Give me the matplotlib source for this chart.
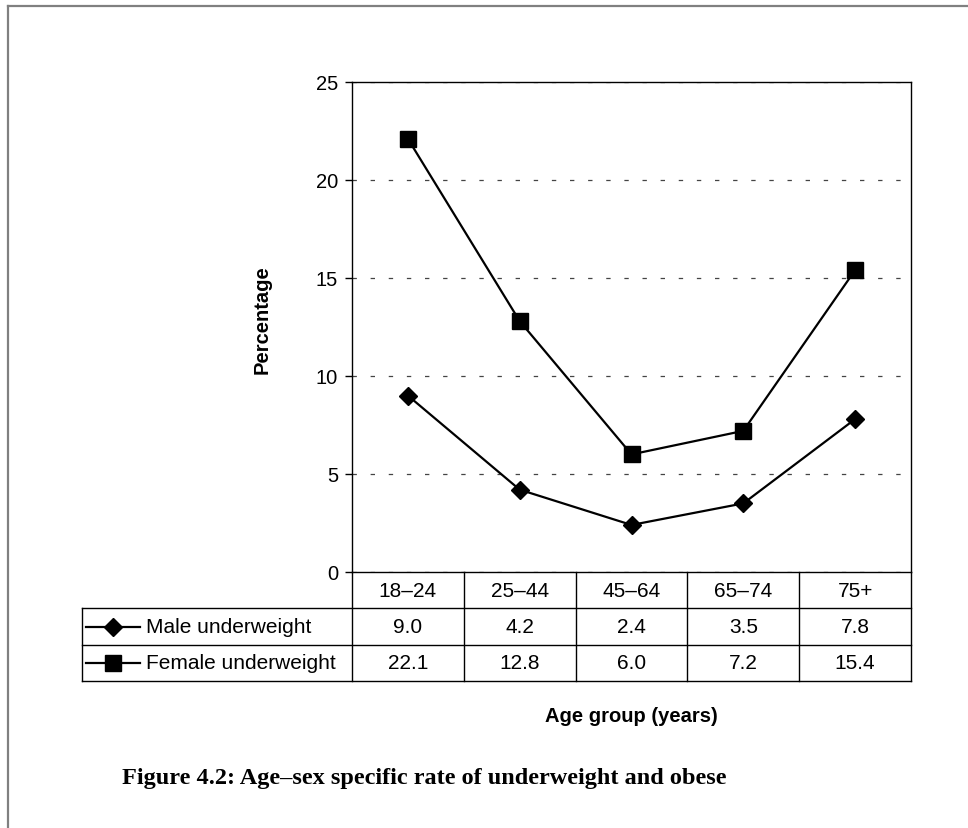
import numpy as np
import matplotlib
matplotlib.use("Agg")
import matplotlib.pyplot as plt
from matplotlib.lines import Line2D

plt.rcParams['font.family'] = ['Liberation Sans', 'DejaVu Sans']

age_groups = ['18\u201324', '25\u201344', '45\u201364', '65\u201374', '75+']
male = [9.0, 4.2, 2.4, 3.5, 7.8]
female = [22.1, 12.8, 6.0, 7.2, 15.4]
series_names = ['Male underweight', 'Female underweight']
y_ticks = [0, 5, 10, 15, 20, 25]

W, H = 968, 829
fig = plt.figure(figsize=(W / 100, H / 100), dpi=100)

# axes in pixel terms
ax_l, ax_r, ax_t, ax_b = 352, 911, 83, 573
ax = fig.add_axes([ax_l / W, 1 - ax_b / H, (ax_r - ax_l) / W, (ax_b - ax_t) / H])

x = np.arange(len(age_groups))
styles = [('D', 9.5), ('s', 11.5)]
for vals, name, (mk, ms) in zip([male, female], series_names, styles):
    ax.plot(x, vals, color='black', lw=1.6, marker=mk, ms=ms, label=name)

ax.set_xlim(-0.5, len(age_groups) - 0.5)
ax.set_ylim(0, 25)
ax.set_yticks(y_ticks)
ax.set_xticks([])
ax.tick_params(axis='y', direction='out', length=5, width=1, pad=5, labelsize=14.5)
ax.yaxis.grid(True, linestyle=(0, (3.5, 11)), color='#444444', lw=0.9)
for s in ax.spines.values():
    s.set_linewidth(1.0)

# data table drawn under the axes (axes-fraction coords)
ax_w = ax_r - ax_l
ax_h = ax_b - ax_t
rh = (682 - ax_b) / 3 / ax_h          # row height
lab_w = (ax_l - 82) / ax_w            # row-label column width
ncol = len(age_groups)
tr = ax.transAxes
kw = dict(color='black', lw=1.0, transform=tr, clip_on=False)

for j in range(ncol + 1):
    ax.plot([j / ncol, j / ncol], [0, -3 * rh], **kw)
for k in (1, 2, 3):
    ax.plot([-lab_w, 1], [-k * rh, -k * rh], **kw)
ax.plot([-lab_w, -lab_w], [-rh, -3 * rh], **kw)

for j, lab in enumerate(age_groups):
    ax.text((j + 0.5) / ncol, -0.5 * rh, lab, transform=tr, ha='center', va='center', fontsize=15)

for i, (vals, name, (mk, ms)) in enumerate(zip([male, female], series_names, styles)):
    yc = -(i + 1.5) * rh
    for j, v in enumerate(vals):
        ax.text((j + 0.5) / ncol, yc, f'{v:.1f}', transform=tr, ha='center', va='center',
                fontsize=15)
    x0 = (86 - ax_l) / ax_w
    x1 = (140 - ax_l) / ax_w
    ax.plot([x0, x1], [yc, yc], color='black', lw=1.6, transform=tr, clip_on=False)
    ax.plot([(x0 + x1) / 2], [yc], color='black', marker=mk, ms=ms, transform=tr, clip_on=False)
    ax.text((146 - ax_l) / ax_w, yc, name, transform=tr, ha='left', va='center', fontsize=15)

fig.text(262 / W, 1 - 320 / H, 'Percentage', rotation=90, ha='center', va='center',
         fontsize=14.5, fontweight='bold')
fig.text(631 / W, 1 - 717 / H, 'Age group (years)', ha='center', va='center',
         fontsize=14.5, fontweight='bold')
fig.text(122 / W, 1 - 779 / H, 'Figure 4.2: Age\u2013sex specific rate of underweight and obese',
         ha='left', va='center', fontsize=17.5, fontweight='bold', family='Liberation Serif')

# page frame (top and left edges)
fig.add_artist(Line2D([8 / W, 1], [1 - 7 / H, 1 - 7 / H], color='#808080', lw=1.6))
fig.add_artist(Line2D([8 / W, 8 / W], [0, 1 - 7 / H], color='#808080', lw=1.6))

fig.savefig('out.png', dpi=100)
